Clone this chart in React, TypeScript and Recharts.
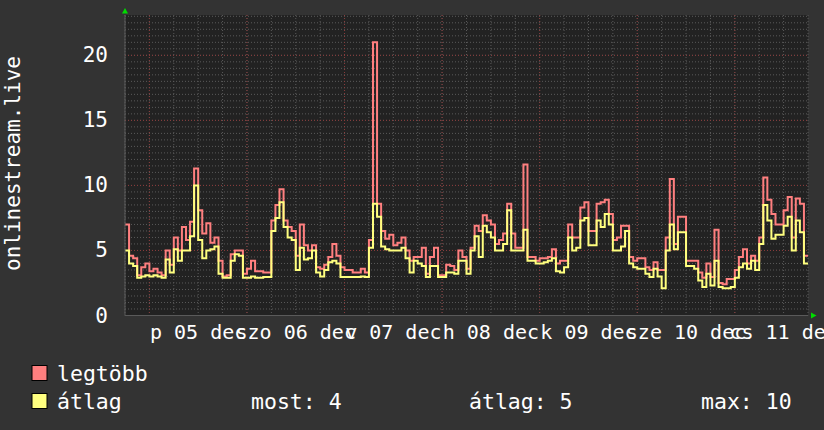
import React from 'react';
import { LineChart, Line, XAxis, YAxis, CartesianGrid } from 'recharts';

// hourly samples, starting 18:00 on Dec 4 (index 0) through 18:00 Dec 11 (index 168)
const maxValues = [
  7.0, 4.6, 4.4, 3.1, 3.7, 4.0, 3.4, 3.6, 3.3, 3.1,
  5.0, 3.9, 6.0, 5.0, 6.8, 5.8, 7.2, 11.3, 8.1, 6.3,
  7.1, 5.6, 6.0, 4.2, 3.0, 3.1, 4.7, 5.0, 5.0, 3.2,
  3.6, 4.2, 3.4, 3.4, 3.3, 3.3, 7.3, 8.5, 9.7, 7.3,
  6.8, 6.5, 4.6, 7.0, 5.4, 5.0, 5.4, 3.7, 3.6, 3.9,
  4.5, 5.5, 4.6, 3.7, 3.5, 3.5, 3.3, 3.3, 3.6, 3.3,
  5.8, 21.0, 8.6, 6.5, 5.9, 6.2, 5.4, 5.6, 6.0, 5.0,
  4.2, 4.5, 4.5, 5.2, 3.2, 4.5, 5.2, 3.1, 3.1, 3.9,
  3.8, 3.5, 5.0, 4.5, 3.6, 5.2, 6.9, 6.5, 7.7, 7.3,
  7.0, 5.5, 5.8, 6.3, 8.6, 6.3, 5.2, 5.2, 11.6, 4.5,
  4.5, 4.2, 4.4, 4.4, 4.5, 5.1, 4.0, 4.2, 4.2, 7.0,
  6.0, 6.0, 8.3, 8.7, 6.5, 6.5, 8.6, 8.7, 8.9, 7.8,
  5.8, 6.0, 6.9, 6.9, 4.5, 4.2, 4.4, 4.4, 3.7, 3.5,
  4.1, 3.5, 3.5, 6.0, 10.5, 5.5, 7.6, 7.6, 4.2, 4.2,
  4.2, 3.3, 2.9, 4.0, 2.95, 6.6, 2.5, 2.4, 2.8, 2.8,
  3.5, 4.5, 5.1, 4.0, 4.6, 4.2, 6.0, 10.6, 8.9, 7.8,
  7.0, 7.0, 8.1, 9.1, 6.0, 9.0, 8.6, 4.6, 4.6,
];

const avgValues = [
  5.0, 4.0, 3.8, 2.9, 3.0, 3.1, 3.0, 3.1, 3.0, 2.9,
  4.3, 3.3, 5.1, 4.2, 5.0, 5.0, 6.1, 10.0, 5.8, 4.4,
  5.0, 5.1, 5.3, 3.2, 2.9, 2.9, 4.2, 4.7, 4.6, 2.9,
  2.9, 3.0, 2.9, 2.9, 2.95, 2.95, 6.5, 7.5, 8.7, 6.8,
  6.0, 5.8, 3.5, 5.2, 4.3, 4.4, 5.0, 3.3, 3.0, 3.5,
  4.1, 4.2, 4.0, 2.95, 2.95, 2.95, 2.95, 2.95, 3.0, 2.95,
  5.2, 8.6, 7.6, 5.3, 5.1, 5.0, 5.0, 5.0, 5.2, 4.4,
  3.3, 4.2, 4.0, 3.8, 2.95, 3.8, 3.8, 2.95, 2.95, 3.3,
  3.3, 3.2, 4.2, 4.2, 3.2, 5.0, 6.1, 4.5, 6.9, 6.4,
  6.0, 5.0, 5.0, 5.5, 8.1, 5.0, 5.0, 5.0, 6.6, 4.2,
  4.2, 4.0, 4.0, 4.1, 4.2, 4.4, 3.4, 3.3, 3.7, 6.0,
  5.0, 5.2, 7.3, 7.5, 5.4, 5.4, 7.3, 6.8, 7.8, 7.0,
  5.0, 5.0, 5.3, 6.5, 4.0, 3.7, 3.6, 3.6, 3.2, 2.95,
  3.6, 3.0, 2.1, 5.0, 7.0, 5.1, 6.4, 6.4, 3.8, 3.8,
  3.6, 2.7, 2.2, 3.2, 2.3, 4.2, 2.2, 2.1, 2.1, 2.2,
  2.9, 3.7, 4.0, 3.6, 4.2, 3.5, 5.5, 8.5, 7.3, 5.9,
  6.2, 6.2, 6.9, 7.6, 5.0, 7.3, 6.4, 4.0, 4.0,
];

const dayTicks = [18, 42, 66, 90, 114, 138, 162];
const dayLabels = ['p 05 dec', 'szo 06 dec', 'v 07 dec', 'h 08 dec', 'k 09 dec', 'sze 10 dec', 'cs 11 dec'];
const yTicks = [0, 5, 10, 15, 20];
const majorHours = [6, 30, 54, 78, 102, 126, 150];
const majorValues = [5, 10, 15, 20];

const seriesNames = ['legtöbb', 'átlag'];
const statLabels = ['most: 4', 'átlag: 5', 'max: 10'];
const title = 'onlinestream.live';

const RED = '#ff7f7f';
const YELLOW = '#ffff7f';
const FONT = '"DejaVu Sans Mono", monospace';

const minorHours: number[] = [];
for (let h = 0; h <= 168; h += 6) minorHours.push(h);
const minorValues: number[] = [];
for (let v = 0.5; v <= 23; v += 0.5) minorValues.push(v);

const data = maxValues.map((m, i) => ({ h: i, max: m, avg: avgValues[i] }));

const XTick = (props: any) => {
  const { x, payload } = props;
  const idx = dayTicks.indexOf(payload.value);
  return (
    <text x={x} y={339} textAnchor="middle" fill="#ffffff" fontFamily={FONT} fontSize={20}>
      {dayLabels[idx]}
    </text>
  );
};

const YTick = (props: any) => {
  const { y, payload } = props;
  return (
    <text x={108} y={y + 7} textAnchor="end" fill="#ffffff" fontFamily={FONT} fontSize={21}>
      {payload.value}
    </text>
  );
};

export default function App() {
  return (
    <div style={{ position: 'absolute', left: 0, top: 0, width: 824, height: 430, background: '#333333' }}>
      <LineChart width={824} height={430} data={data} margin={{ top: 15, right: 16, bottom: 0, left: 0 }}>
        <CartesianGrid
          horizontalValues={minorValues}
          verticalValues={minorHours}
          stroke="#5a5a5a"
          strokeDasharray="1 2"
          fill="#222222"
          fillOpacity={1}
        />
        <CartesianGrid
          horizontalValues={majorValues}
          verticalValues={majorHours}
          stroke="#8a3a3a"
          strokeDasharray="1 2"
        />
        <XAxis
          dataKey="h"
          type="number"
          domain={[0, 168]}
          ticks={dayTicks}
          tick={<XTick />}
          tickLine={false}
          axisLine={{ stroke: '#5a5a5a' }}
          height={114.5}
          interval={0}
          allowDataOverflow
        />
        <YAxis
          type="number"
          domain={[0, 23.1]}
          ticks={yTicks}
          tick={<YTick />}
          tickLine={false}
          axisLine={{ stroke: '#5a5a5a' }}
          width={125}
          interval={0}
          allowDataOverflow
        />
        <Line type="stepAfter" dataKey="max" stroke={RED} strokeWidth={2} dot={false} isAnimationActive={false} />
        <Line type="stepAfter" dataKey="avg" stroke={YELLOW} strokeWidth={2} dot={false} isAnimationActive={false} />
      </LineChart>
      <svg width={824} height={430} style={{ position: 'absolute', left: 0, top: 0, pointerEvents: 'none' }}>
        <polygon points="122,13.5 128,13.5 125,8" fill="#00dd00" />
        <polygon points="811,312.5 811,318.5 816.5,315.5" fill="#00dd00" />
        <text
          transform="translate(19.5,163.5) rotate(-90)"
          textAnchor="middle"
          fill="#ffffff"
          fontFamily={FONT}
          fontSize={21}
        >
          {title}
        </text>
        <rect x={32} y={365.5} width={15} height={15} fill={RED} stroke="#000" strokeWidth={1} />
        <rect x={32} y={393.5} width={15} height={15} fill={YELLOW} stroke="#000" strokeWidth={1} />
        <g fill="#ffffff" fontFamily={FONT} fontSize={21.5}>
          <text x={57} y={381}>{seriesNames[0]}</text>
          <text x={57} y={409}>{seriesNames[1]}</text>
          <text x={251} y={409}>{statLabels[0]}</text>
          <text x={469} y={409}>{statLabels[1]}</text>
          <text x={701} y={409}>{statLabels[2]}</text>
        </g>
      </svg>
    </div>
  );
}
